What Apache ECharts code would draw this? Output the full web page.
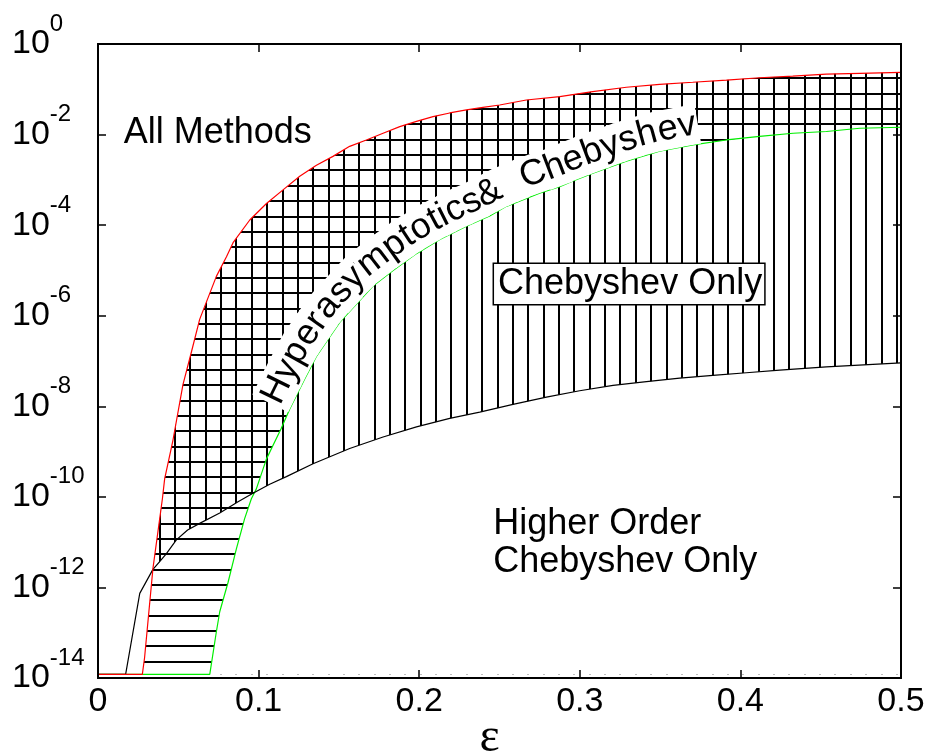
<!DOCTYPE html>
<html>
<head>
<meta charset="utf-8">
<script src="https://cdn.jsdelivr.net/npm/echarts@6/dist/echarts.min.js"></script>
<style>
  html, body { margin: 0; padding: 0; background: #fff; }
  #chart { width: 928px; height: 752px; }
</style>
</head>
<body>
<div id="chart"></div>
<script>
// Lowest error level reached by every method (flat part of the curves)
const FLOOR = 1.2e-14;

// Upper limit of the hyperasymptotic method (red)
const redX = [0, 0.0276, 0.029, 0.0342, 0.0401, 0.0415, 0.0467, 0.0529, 0.0582, 0.0633, 0.0737, 0.0800,
  0.0841, 0.0945, 0.1049, 0.1152, 0.1256, 0.1360, 0.1463, 0.1567, 0.1671, 0.1775, 0.1879, 0.1983,
  0.2086, 0.2190, 0.2294, 0.2397, 0.2501, 0.2667, 0.2875, 0.3080, 0.3290, 0.3497, 0.3703, 0.3913,
  0.4120, 0.4326, 0.4535, 0.4743, 0.5];
const redY = [1.2e-14, 1.2e-14, 2.8e-14, 2.6e-12, 9.1e-11, 2.5e-10, 1.8e-9, 3.0e-8, 1.6e-7, 8.3e-7, 7.4e-6, 2.0e-5,
  4.1e-5, 1.3e-4, 3.0e-4, 6.0e-4, 1.2e-3, 2.1e-3, 3.3e-3, 5.5e-3, 7.6e-3, 1.07e-2, 1.5e-2, 1.95e-2,
  2.5e-2, 3.0e-2, 3.5e-2, 4.0e-2, 4.5e-2, 5.8e-2, 6.9e-2, 8.9e-2, 0.111, 0.129, 0.143, 0.160,
  0.180, 0.196, 0.217, 0.225, 0.237];

// Limit of ordinary Chebyshev (green)
const greenX = [0, 0.0696, 0.0737, 0.0758, 0.0810, 0.0862, 0.0913, 0.0955, 0.0986, 0.1049, 0.1140, 0.1194,
  0.1287, 0.1360, 0.1505, 0.1712, 0.1837, 0.1983, 0.2128, 0.2294, 0.2439, 0.2543, 0.2750, 0.2875,
  0.2958, 0.3082, 0.3290, 0.3497, 0.3705, 0.3913, 0.4120, 0.4328, 0.4535, 0.4743, 0.5];
const greenY = [1.2e-14, 1.2e-14, 1.05e-13, 2.9e-13, 1.3e-12, 7.2e-12, 3.3e-11, 9.1e-11, 1.5e-10, 6.9e-10, 3.2e-9, 8.7e-9,
  4.0e-8, 1.26e-7, 7.1e-7, 4.5e-6, 1.0e-5, 2.35e-5, 4.8e-5, 9.5e-5, 1.6e-4, 2.6e-4, 5.1e-4, 7.1e-4,
  9.5e-4, 1.4e-3, 2.6e-3, 4.3e-3, 5.9e-3, 7.6e-3, 9.1e-3, 1.07e-2, 1.17e-2, 1.38e-2, 1.45e-2];

// Limit of higher-order Chebyshev (black)
const blackX = [0, 0.0172, 0.0260, 0.0342, 0.0384, 0.0426, 0.0488, 0.0558, 0.0633, 0.0758, 0.0872, 0.0965,
  0.1069, 0.1173, 0.1339, 0.1567, 0.1775, 0.1983, 0.2190, 0.2377, 0.2584, 0.2792, 0.2999, 0.3207,
  0.3415, 0.3622, 0.3829, 0.4037, 0.4245, 0.4535, 0.5];
const blackY = [1.2e-14, 1.2e-14, 7.4e-13, 2.5e-12, 3.7e-12, 5.6e-12, 1.12e-11, 1.86e-11, 2.6e-11, 4.4e-11, 7.8e-11, 1.2e-10,
  1.9e-10, 2.8e-10, 5.4e-10, 1.17e-9, 2.1e-9, 3.5e-9, 5.4e-9, 7.4e-9, 1.1e-8, 1.6e-8, 2.2e-8, 2.9e-8,
  3.5e-8, 4.2e-8, 4.8e-8, 5.5e-8, 6.3e-8, 7.4e-8, 9.1e-8];

// Tick labels
const xTickLabels = ['0', '0.1', '0.2', '0.3', '0.4', '0.5'];
const yTickExponents = ['0', '-2', '-4', '-6', '-8', '-10', '-12', '-14'];

// Region names
const labelAll = 'All Methods';
const labelCheb = 'Chebyshev Only';
const labelHigher = 'Higher Order\nChebyshev Only';
const labelHyper = 'Hyperasymptotics&  Chebyshev';

const FONT = '"Liberation Sans", Arial, Helvetica, sans-serif';
const X_MAX = 0.5;

const pairs = (xs, ys) => xs.map((x, i) => [x, ys[i]]);

// Hatch fills: vertical and horizontal black strokes
function verticalHatch() {
  const c = document.createElement('canvas');
  c.width = 384; c.height = 8;
  const g = c.getContext('2d');
  g.fillStyle = '#000';
  for (let i = 0; i < 25; i++) {
    const cx = 6.04 + i * 15.36;
    g.fillRect(Math.round(cx - 1), 0, 2, 8);
  }
  return c;
}
function horizontalHatch() {
  const c = document.createElement('canvas');
  c.width = 8; c.height = 307;
  const g = c.getContext('2d');
  g.fillStyle = '#000';
  for (let i = 0; i < 20; i++) {
    const cy = 1.6 + i * 15.35;
    g.fillRect(0, Math.round(cy - 1), 8, 2);
  }
  return c;
}
const vPattern = { image: verticalHatch(), repeat: 'repeat' };
const hPattern = { image: horizontalHatch(), repeat: 'repeat' };

// Arc-length helper for placing text along a polyline
function pathSampler(pts) {
  const cum = [0];
  for (let i = 1; i < pts.length; i++) {
    cum.push(cum[i - 1] + Math.hypot(pts[i][0] - pts[i - 1][0], pts[i][1] - pts[i - 1][1]));
  }
  const total = cum[cum.length - 1];
  function at(s) {
    s = Math.max(0, Math.min(total, s));
    let i = 1;
    while (i < cum.length - 1 && cum[i] < s) i++;
    const seg = (cum[i] - cum[i - 1]) || 1;
    const t = (s - cum[i - 1]) / seg;
    return [pts[i - 1][0] + (pts[i][0] - pts[i - 1][0]) * t,
            pts[i - 1][1] + (pts[i][1] - pts[i - 1][1]) * t];
  }
  function arcAtX(px) {
    for (let i = 1; i < pts.length; i++) {
      if (pts[i][0] >= px) {
        const t = (px - pts[i - 1][0]) / ((pts[i][0] - pts[i - 1][0]) || 1);
        return cum[i - 1] + t * (cum[i] - cum[i - 1]);
      }
    }
    return total;
  }
  return { at, arcAtX };
}

const measureCtx = document.createElement('canvas').getContext('2d');

function renderRegions(params, api) {
  const red = redX.map((x, i) => api.coord([x, redY[i]]));
  const green = greenX.map((x, i) => api.coord([x, greenY[i]]));
  const black = blackX.map((x, i) => api.coord([x, blackY[i]]));
  const corner = api.coord([X_MAX, FLOOR]);
  return {
    type: 'group',
    children: [
      // vertical strokes below the red limit
      { type: 'polygon', shape: { points: red.concat([corner]) }, style: { fill: vPattern } },
      // nothing below the black limit
      { type: 'polygon', shape: { points: black.concat([corner]) }, style: { fill: '#fff' } },
      // horizontal strokes between green and red
      { type: 'polygon', shape: { points: red.concat(green.slice().reverse()) }, style: { fill: hPattern } }
    ]
  };
}

function renderLabels(params, api) {
  const children = [];
  const font36 = '36px ' + FONT;

  const pAll = api.coord([0.016, 1.09e-2]);
  children.push({ type: 'text', x: pAll[0], y: pAll[1],
    style: { text: labelAll, font: font36, fill: '#000', align: 'left', verticalAlign: 'middle' } });

  const pCheb = api.coord([0.2466, 5.0e-6]);
  children.push({ type: 'text', x: pCheb[0], y: pCheb[1],
    style: { text: labelCheb, font: font36, fill: '#000', align: 'left', verticalAlign: 'middle',
      lineHeight: 36, backgroundColor: '#fff', borderColor: '#000', borderWidth: 1.5, padding: [2, 2, 2, 4] } });

  const pHigh = api.coord([0.2461, 9.6e-12]);
  children.push({ type: 'text', x: pHigh[0], y: pHigh[1],
    style: { text: labelHigher, font: font36, fill: '#000', align: 'left', verticalAlign: 'middle', lineHeight: 37.5 } });

  // label riding along the green limit
  const pts = greenX.map((x, i) => api.coord([x, greenY[i]]));
  const path = pathSampler(pts);
  let s = path.arcAtX(api.coord([0.119, 1])[0]);
  measureCtx.font = font36;
  const bgs = [], glyphs = [];
  for (const ch of labelHyper) {
    const w = measureCtx.measureText(ch).width;
    const mid = s + w / 2;
    const a = path.at(mid - 14), b = path.at(mid + 14), p = path.at(mid);
    let tx = b[0] - a[0], ty = b[1] - a[1];
    const L = Math.hypot(tx, ty) || 1;
    tx /= L; ty /= L;
    const nx = ty, ny = -tx;
    const cx = p[0] + nx * 20, cy = p[1] + ny * 20;
    const rot = Math.atan2(-ty, tx);
    bgs.push({ type: 'rect', x: cx, y: cy, rotation: rot,
      shape: { x: -w / 2 - 2, y: -20, width: w + 4, height: 40 }, style: { fill: '#fff' } });
    if (ch.trim()) {
      glyphs.push({ type: 'text', x: cx, y: cy, rotation: rot,
        style: { text: ch, font: font36, fill: '#000', align: 'center', verticalAlign: 'middle' } });
    }
    s += w;
  }
  return { type: 'group', children: children.concat(bgs, glyphs) };
}

const axisLineStyle = { show: true, onZero: false, lineStyle: { color: '#000', width: 2 } };
const tickStyle = (len) => ({ show: true, inside: true, length: len, lineStyle: { color: '#000', width: 1.5 } });

const yLog = (base, split, pos, len, labels) => ({
  type: 'log', logBase: base, min: 1e-14, max: 1, splitNumber: split, position: pos, offset: 0, z: 10,
  axisLine: axisLineStyle, axisTick: tickStyle(len), splitLine: { show: false }, minorTick: { show: false },
  axisLabel: labels ? {
    show: true, align: 'left', margin: 86, showMinLabel: true, showMaxLabel: true,
    formatter: (v) => {
      const e = String(Math.round(Math.log10(v)));
      return yTickExponents.indexOf(e) >= 0 ? '{b|10}{s|' + e + '}' : '';
    },
    rich: {
      b: { fontSize: 34, fontFamily: FONT, color: '#000', lineHeight: 64 },
      s: { fontSize: 24, fontFamily: FONT, color: '#000', lineHeight: 24, verticalAlign: 'top' }
    }
  } : { show: false }
});

const option = {
  animation: false,
  backgroundColor: '#fff',
  grid: { left: 98, right: 27, top: 44, bottom: 74, containLabel: false, outerBoundsMode: 'none' },
  xAxis: [
    {
      type: 'value', min: 0, max: X_MAX, interval: 0.1, position: 'bottom', z: 10,
      axisLine: axisLineStyle, axisTick: tickStyle(8), splitLine: { show: false },
      axisLabel: { margin: 7, fontSize: 34, fontFamily: FONT, color: '#000', lineHeight: 34,
        showMinLabel: true, showMaxLabel: true,
        formatter: (v) => xTickLabels[Math.round(v * 10)] },
      name: 'ε', nameLocation: 'middle', nameGap: 36, nameMoveOverlap: false,
      nameTextStyle: { fontFamily: '"Liberation Serif", "DejaVu Serif", serif', fontSize: 48, color: '#000',
        lineHeight: 48, padding: [0, 20, 0, 0] }
    },
    {
      type: 'value', min: 0, max: X_MAX, interval: 0.1, position: 'top', z: 10,
      axisLine: axisLineStyle, axisTick: tickStyle(8), splitLine: { show: false }, axisLabel: { show: false }
    }
  ],
  yAxis: [
    yLog(10, 14, 'left', 4, false),
    yLog(100, 7, 'left', 8, true),
    yLog(10, 14, 'right', 4, false),
    yLog(100, 7, 'right', 8, false)
  ],
  series: [
    { type: 'custom', name: 'regions', xAxisIndex: 0, yAxisIndex: 0, z: 1, silent: true, clip: false,
      data: [[0.25, 1e-7]], renderItem: renderRegions },
    { type: 'line', name: 'Chebyshev', xAxisIndex: 0, yAxisIndex: 0, z: 3, data: pairs(greenX, greenY),
      showSymbol: false, symbol: 'none', silent: true, lineStyle: { color: '#00ee00', width: 1.2 } },
    { type: 'line', name: 'Higher order Chebyshev', xAxisIndex: 0, yAxisIndex: 0, z: 3, data: pairs(blackX, blackY),
      showSymbol: false, symbol: 'none', silent: true, lineStyle: { color: '#000', width: 1.2 } },
    { type: 'line', name: 'Hyperasymptotics', xAxisIndex: 0, yAxisIndex: 0, z: 3, data: pairs(redX, redY),
      showSymbol: false, symbol: 'none', silent: true, lineStyle: { color: '#ff0000', width: 1.2 } },
    { type: 'custom', name: 'labels', xAxisIndex: 0, yAxisIndex: 0, z: 5, silent: true, clip: false,
      data: [[0.25, 1e-7]], renderItem: renderLabels }
  ]
};

const chart = echarts.init(document.getElementById('chart'), null, { renderer: 'canvas' });
chart.setOption(option);
</script>
</body>
</html>
